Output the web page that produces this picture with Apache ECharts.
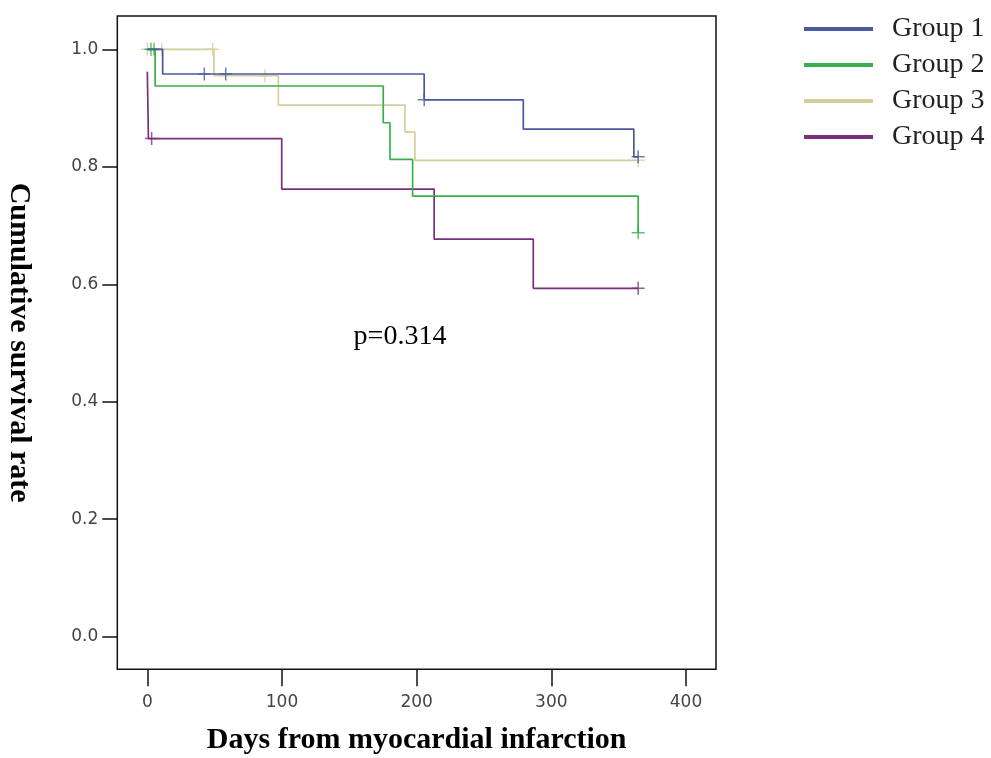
<!DOCTYPE html>
<html>
<head>
<meta charset="utf-8">
<title>Cumulative survival</title>
<script src="https://cdn.jsdelivr.net/npm/echarts@6/dist/echarts.min.js"></script>
<style>
  html, body { margin: 0; padding: 0; background: #fff; }
  #chart { width: 991px; height: 758px; }
</style>
</head>
<body>
<div id="chart"></div>
<script>
// days / survival (step values after each event)
var g1Days = [0, 11.4, 205.6, 279.2, 361.3, 364.5]
var g1Surv = [1, 0.958, 0.914, 0.864, 0.817, 0.817]
var g1CensDays = [42.3, 58.2, 205.6, 364.5]
var g1CensSurv = [0.958, 0.958, 0.914, 0.817]

var g2Days = [0, 5.8, 175.2, 180.2, 197, 364.5]
var g2Surv = [1, 0.9375, 0.875, 0.8125, 0.75, 0.6875]
var g2CensDays = [2.7, 5, 364.5]
var g2CensSurv = [1, 1, 0.6875]

var g3Days = [0, 49.5, 97.3, 191.3, 198.7, 364.5]
var g3Surv = [1, 0.955, 0.905, 0.859, 0.811, 0.811]
var g3CensDays = [0, 10.7, 48.5, 87.4, 364.5]
var g3CensSurv = [1, 1, 1, 0.955, 0.811]

var g4Days = [0, 0.8, 99.8, 213, 286.6, 364.5]
var g4Surv = [0.962, 0.848, 0.762, 0.677, 0.593, 0.593]
var g4CensDays = [3.2, 364.5]
var g4CensSurv = [0.848, 0.593]

var groupNames = ['Group 1', 'Group 2', 'Group 3', 'Group 4']
var xTicks = [0, 100, 200, 300, 400]
var yTicks = [0, 0.2, 0.4, 0.6, 0.8, 1.0]

var colors = ['#4a5aa0', '#37b04c', '#d4ce9a', '#7a2f7e']
var plusSymbol = 'path://M5.75,0h1.5v13h-1.5zM0,5.75h13v1.5h-13z'

function pairs (xs, ys) {
  var out = []
  for (var i = 0; i < xs.length; i++) {
    out.push([xs[i], ys[i]])
  }
  return out
}

var curves = [
  { name: groupNames[0], line: pairs(g1Days, g1Surv), cens: pairs(g1CensDays, g1CensSurv), color: colors[0] },
  { name: groupNames[1], line: pairs(g2Days, g2Surv), cens: pairs(g2CensDays, g2CensSurv), color: colors[1] },
  { name: groupNames[2], line: pairs(g3Days, g3Surv), cens: pairs(g3CensDays, g3CensSurv), color: colors[2] },
  { name: groupNames[3], line: pairs(g4Days, g4Surv), cens: pairs(g4CensDays, g4CensSurv), color: colors[3] }
]

// drawing order: tan under the others, blue on top
var drawOrder = [2, 3, 1, 0]
var series = []
for (var k = 0; k < drawOrder.length; k++) {
  var c = curves[drawOrder[k]]
  series.push({
    name: c.name,
    type: 'line',
    step: 'end',
    data: c.line,
    showSymbol: false,
    color: c.color,
    lineStyle: { width: 1.7, color: c.color },
    z: 2 + k
  })
  series.push({
    name: c.name,
    type: 'scatter',
    data: c.cens,
    symbol: plusSymbol,
    symbolSize: 13,
    itemStyle: { color: c.color },
    z: 2 + k
  })
}

var chart = echarts.init(document.getElementById('chart'))
var option = {
  animation: false,
  backgroundColor: '#fff',
  color: colors,
  grid: {
    left: 117.3,
    right: 275,
    top: 16,
    bottom: 88.7,
    outerBoundsMode: 'none',
    containLabel: false,
    show: true,
    borderColor: '#111',
    borderWidth: 1.5,
    backgroundColor: 'transparent'
  },
  legend: {
    data: groupNames,
    orient: 'vertical',
    left: 799,
    top: 10,
    icon: 'rect',
    itemWidth: 69,
    itemHeight: 4,
    itemGap: 8,
    textStyle: {
      fontFamily: 'Liberation Serif',
      fontSize: 28,
      lineHeight: 28,
      color: '#222',
      padding: [0, 0, 0, 14]
    }
  },
  xAxis: {
    type: 'value',
    min: -22.3,
    max: 422.3,
    name: 'Days from myocardial infarction',
    nameLocation: 'middle',
    nameGap: 56,
    nameTextStyle: {
      fontFamily: 'Liberation Serif',
      fontWeight: 'bold',
      fontSize: 30,
      color: '#000'
    },
    axisLine: { show: false, onZero: false },
    splitLine: { show: false },
    axisTick: {
      show: true,
      inside: false,
      length: 17,
      customValues: xTicks,
      lineStyle: { color: '#111', width: 1.5 }
    },
    axisLabel: {
      customValues: xTicks,
      margin: 25,
      fontFamily: 'DejaVu Sans',
      fontSize: 17,
      color: '#444'
    }
  },
  yAxis: {
    type: 'value',
    min: -0.0555,
    max: 1.0567,
    name: 'Cumulative survival rate',
    nameLocation: 'middle',
    nameRotate: -90,
    nameGap: 84,
    nameTextStyle: {
      fontFamily: 'Liberation Serif',
      fontWeight: 'bold',
      fontSize: 30,
      color: '#000'
    },
    axisLine: { show: false, onZero: false },
    splitLine: { show: false },
    axisTick: {
      show: true,
      inside: false,
      length: 15,
      customValues: yTicks,
      lineStyle: { color: '#111', width: 1.5 }
    },
    axisLabel: {
      customValues: yTicks,
      margin: 19,
      fontFamily: 'DejaVu Sans',
      fontSize: 17,
      color: '#444',
      formatter: function (v) {
        return v.toFixed(1)
      }
    }
  },
  graphic: [
    {
      type: 'text',
      x: 400,
      y: 337,
      style: {
        text: 'p=0.314',
        font: '28px "Liberation Serif"',
        fill: '#000',
        textAlign: 'center',
        textVerticalAlign: 'middle'
      }
    }
  ],
  series: series
}
chart.setOption(option)
</script>
</body>
</html>
